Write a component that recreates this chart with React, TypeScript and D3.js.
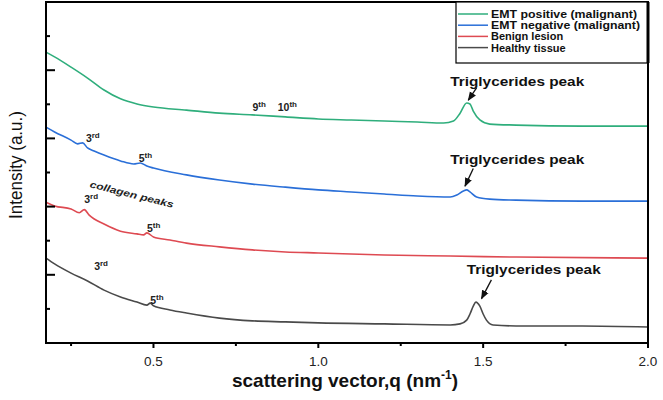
import React from "react";
import * as d3 from "d3";

const W = 663;
const H = 400;

// q (nm^-1) sample positions and intensities (a.u., arbitrary offsets) for each series
const qGreen = [0.174, 0.2, 0.25, 0.3, 0.35, 0.4, 0.45, 0.5, 0.6, 0.7, 0.8, 0.9, 1.0, 1.1, 1.2, 1.3, 1.38, 1.41, 1.43, 1.45, 1.46, 1.47, 1.49, 1.52, 1.6, 1.8, 2.0];
const vGreen = [8.53, 8.39, 8.09, 7.77, 7.42, 7.16, 7.01, 6.92, 6.83, 6.74, 6.69, 6.63, 6.57, 6.54, 6.51, 6.48, 6.45, 6.51, 6.74, 7.04, 7.01, 6.80, 6.54, 6.42, 6.39, 6.36, 6.36];

const qBlue = [0.174, 0.2, 0.25, 0.27, 0.285, 0.3, 0.32, 0.35, 0.4, 0.44, 0.46, 0.48, 0.5, 0.6, 0.7, 0.8, 0.9, 1.0, 1.1, 1.2, 1.3, 1.4, 1.42, 1.44, 1.45, 1.46, 1.48, 1.52, 1.6, 1.8, 2.0];
const vBlue = [6.33, 6.19, 5.95, 5.84, 5.87, 5.72, 5.63, 5.51, 5.34, 5.25, 5.28, 5.19, 5.13, 4.93, 4.78, 4.66, 4.57, 4.49, 4.43, 4.37, 4.31, 4.28, 4.34, 4.46, 4.49, 4.43, 4.28, 4.22, 4.19, 4.16, 4.16];

const qRed = [0.174, 0.2, 0.25, 0.275, 0.29, 0.305, 0.35, 0.4, 0.45, 0.47, 0.48, 0.5, 0.55, 0.6, 0.7, 0.8, 0.9, 1.0, 1.2, 1.4, 1.6, 2.0];
const vRed = [4.13, 4.02, 3.93, 3.82, 3.91, 3.75, 3.49, 3.28, 3.2, 3.17, 3.23, 3.11, 3.02, 2.93, 2.82, 2.73, 2.67, 2.64, 2.58, 2.55, 2.52, 2.49];

const qGray = [0.174, 0.2, 0.25, 0.3, 0.35, 0.4, 0.45, 0.48, 0.49, 0.5, 0.55, 0.6, 0.7, 0.8, 0.9, 1.0, 1.2, 1.4, 1.43, 1.45, 1.46, 1.47, 1.478, 1.49, 1.5, 1.51, 1.53, 1.6, 1.8, 2.0];
const vGray = [2.49, 2.32, 2.05, 1.82, 1.55, 1.35, 1.2, 1.11, 1.17, 1.09, 0.97, 0.88, 0.73, 0.65, 0.62, 0.59, 0.56, 0.53, 0.56, 0.67, 0.85, 1.08, 1.2, 1.08, 0.85, 0.67, 0.53, 0.5, 0.5, 0.47];

const seriesNames = ["EMT positive (malignant)", "EMT negative (malignant)", "Benign lesion", "Healthy tissue"];
const seriesColors = ["#2fae7c", "#2a6fd8", "#de4a52", "#4a4a4a"];

const xMajorTicks = [0.5, 1.0, 1.5, 2.0];
const xMinorTicks = [0.25, 0.75, 1.25, 1.75];
const yMajorTicks = [2, 4, 6, 8];
const yMinorTicks = [1, 3, 5, 7, 9];

// harmonic order labels: [q, intensity, base, superscript]
const orderLabels: [number, number, string, string][] = [
  [0.8, 6.8, "9", "th"],
  [0.877, 6.8, "10", "th"],
  [0.295, 5.9, "3", "rd"],
  [0.455, 5.3, "5", "th"],
  [0.29, 4.1, "3", "rd"],
  [0.48, 3.25, "5", "th"],
  [0.32, 2.15, "3", "rd"],
  [0.49, 1.15, "5", "th"],
];

// Triglycerides annotations: text anchor q, v ; arrow from (q,v) to (q,v)
const trigText: [number, number][] = [[1.4, 7.55], [1.4, 5.25], [1.45, 2.02]];
const trigArrowFrom: [number, number][] = [[1.48, 7.48], [1.47, 5.12], [1.525, 1.85]];
const trigArrowTo: [number, number][] = [[1.455, 7.12], [1.445, 4.6], [1.495, 1.3]];

export default function App() {
  const left = 46, right = 648, top = 2, bottom = 343;
  const x = d3.scaleLinear().domain([0.174, 2.0]).range([left, right]);
  const y = d3.scaleLinear().domain([0, 10]).range([bottom, top]);

  const series = [
    { q: qGreen, v: vGreen },
    { q: qBlue, v: vBlue },
    { q: qRed, v: vRed },
    { q: qGray, v: vGray },
  ];
  const line = d3
    .line<[number, number]>()
    .x((d) => x(d[0]))
    .y((d) => y(d[1]))
    .curve(d3.curveMonotoneX);

  const font = "'Liberation Sans', Arial, sans-serif";

  return (
    <svg width={W} height={H} style={{ display: "block", position: "absolute", left: 0, top: 0, background: "#fff" }}>
      <defs>
        <marker id="arr" viewBox="0 0 10 10" refX="9" refY="5" markerWidth="7" markerHeight="7" orient="auto">
          <path d="M0,1 L10,5 L0,9 Z" fill="#111" />
        </marker>
      </defs>
      {series.map((s, i) => (
        <path
          key={i}
          d={line(s.q.map((q, j) => [q, s.v[j]] as [number, number])) || ""}
          fill="none"
          stroke={seriesColors[i]}
          strokeWidth={1.6}
        />
      ))}

      {/* frame */}
      <rect x={left} y={top} width={right - left} height={bottom - top} fill="none" stroke="#000" strokeWidth={2} />

      {/* x ticks */}
      {xMajorTicks.map((t) => (
        <g key={"xm" + t}>
          <line x1={x(t)} x2={x(t)} y1={bottom} y2={bottom + 5} stroke="#000" strokeWidth={2} />
          <text x={x(t)} y={366} textAnchor="middle" fontFamily={font} fontSize={13.5} fill="#222">
            {t.toFixed(1)}
          </text>
        </g>
      ))}
      {xMinorTicks.map((t) => (
        <line key={"xn" + t} x1={x(t)} x2={x(t)} y1={bottom} y2={bottom + 3} stroke="#000" strokeWidth={2} />
      ))}
      {/* y ticks (inward) */}
      {yMajorTicks.map((t) => (
        <line key={"ym" + t} x1={left} x2={left + 9} y1={y(t)} y2={y(t)} stroke="#000" strokeWidth={2} />
      ))}
      {yMinorTicks.map((t) => (
        <line key={"yn" + t} x1={left} x2={left + 4} y1={y(t)} y2={y(t)} stroke="#000" strokeWidth={2} />
      ))}

      {/* axis titles */}
      <text
        transform={`translate(22,165) rotate(-90)`}
        textAnchor="middle"
        fontFamily={font}
        fontSize={19}
        textLength={108}
        lengthAdjust="spacingAndGlyphs"
        fill="#111"
      >
        Intensity (a.u.)
      </text>
      <text x={345} y={387} textAnchor="middle" fontFamily={font} fontSize={19} fontWeight="bold" fill="#111">
        scattering vector,q (nm
        <tspan fontSize={12} dy={-8}>-1</tspan>
        <tspan dy={8}>)</tspan>
      </text>

      {/* order labels */}
      {orderLabels.map(([q, v, b, s], i) => (
        <text key={"o" + i} x={x(q)} y={y(v)} fontFamily={font} fontSize={10.5} fontWeight="bold" fill="#222">
          {b}
          <tspan fontSize={8} dy={-4}>{s}</tspan>
        </text>
      ))}

      {/* collagen peaks */}
      <text
        transform={`translate(${x(0.305)},${y(4.57)}) rotate(14)`}
        fontFamily={font}
        fontSize={9.5}
        fontWeight="bold"
        fontStyle="italic"
        textLength={86}
        lengthAdjust="spacingAndGlyphs"
        fill="#222"
      >
        collagen peaks
      </text>

      {/* Triglycerides annotations */}
      {trigText.map(([q, v], i) => (
        <g key={"t" + i}>
          <text x={x(q)} y={y(v)} fontFamily={font} fontSize={13} fontWeight="bold" textLength={134} lengthAdjust="spacingAndGlyphs" fill="#111">
            Triglycerides peak
          </text>
          <line
            x1={x(trigArrowFrom[i][0])}
            y1={y(trigArrowFrom[i][1])}
            x2={x(trigArrowTo[i][0])}
            y2={y(trigArrowTo[i][1])}
            stroke="#111"
            strokeWidth={1.3}
            markerEnd="url(#arr)"
          />
        </g>
      ))}

      {/* legend */}
      <rect x={456} y={top} width={right - 456} height={61} fill="#fff" stroke="#000" strokeWidth={1.2} />
      <line x1={right} x2={right} y1={top} y2={63} stroke="#000" strokeWidth={3} />
      {seriesNames.map((n, i) => (
        <g key={"l" + i}>
          <line x1={458} x2={488} y1={14 + i * 11.2} y2={14 + i * 11.2} stroke={seriesColors[i]} strokeWidth={1.5} />
          <text x={491} y={18 + i * 11.2} fontFamily={font} fontSize={11} fontWeight="bold" textLength={i === 0 ? 146 : i === 1 ? 149 : undefined} lengthAdjust="spacingAndGlyphs" fill="#111">
            {n}
          </text>
        </g>
      ))}
    </svg>
  );
}
